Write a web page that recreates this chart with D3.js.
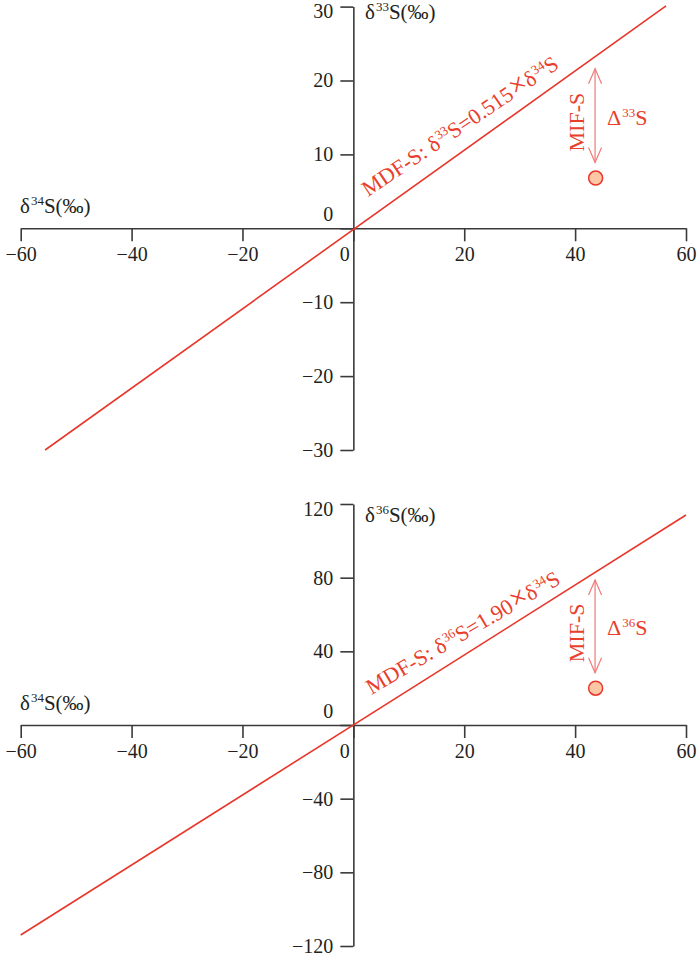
<!DOCTYPE html>
<html>
<head>
<meta charset="utf-8">
<script src="https://cdn.jsdelivr.net/npm/d3@7"></script>
<style>
  html, body { margin: 0; padding: 0; background: #fff; }
  svg { display: block; font-family: "Liberation Serif", "Times New Roman", serif; }
</style>
</head>
<body>
<svg id="chart" width="700" height="956"></svg>
<script>
// ---------- data ----------
const xTicks = [-60, -40, -20, 0, 20, 40, 60];
const yTicksTop = [-30, -20, -10, 0, 10, 20, 30];
const yTicksBottom = [-120, -80, -40, 0, 40, 80, 120];
const xDomain = [-60, 60];
const yDomainTop = [-30, 30];
const yDomainBottom = [-120, 120];

// MDF lines (endpoints)
const mdfTopX = [-55.6, 56.4];
const mdfTopY = [-30, 30.1];
const mdfBottomX = [-60, 60];
const mdfBottomY = [-114, 114];

// sample points
const pointTop = { x: 43.7, y: 6.8 };
const pointBottom = { x: 43.7, y: 20 };

// MIF arrows (x, y from, y to)
const arrowTop = { x: 43.6, y1: 21.6, y2: 8.9 };
const arrowBottom = { x: 43.6, y1: 78.7, y2: 28.4 };

// labels: [text, superscript?, enlarged?]
const mdfLabelTop = [["MDF-S: δ"], ["33", true], ["S=0.515"], ["×", false, true], ["δ"], ["34", true], ["S"]];
const mdfLabelBottom = [["MDF-S: δ"], ["36", true], ["S=1.90"], ["×", false, true], ["δ"], ["34", true], ["S"]];
const yLabelTop = [["δ"], ["33", true], ["S(‰)"]];
const yLabelBottom = [["δ"], ["36", true], ["S(‰)"]];
const xLabel = [["δ"], ["34", true], ["S(‰)"]];
const deltaTop = [["Δ"], ["33", true], ["S"]];
const deltaBottom = [["Δ"], ["36", true], ["S"]];

// ---------- style ----------
const RED = "#e8362a";
const RED_TXT = "#e8402c";
const ARROW = "#f07a78";
const INK = "#231f20";
const AXIS = "#3a3a3a";
const FS = 20;

const svg = d3.select("#chart");

function rich(sel, parts, fs) {
  const supFs = Math.round(fs * 0.6);
  const raise = fs * 0.36;
  let up = false;
  parts.forEach(([t, sup, big]) => {
    const ts = sel.append("tspan").text(t);
    if (sup) {
      ts.attr("font-size", supFs).attr("dy", -raise).attr("dx", 1);
      up = true;
    } else {
      ts.attr("font-size", big ? fs * 1.35 : fs);
      if (big) ts.attr("dx", 1);
      if (up) { ts.attr("dy", raise); up = false; }
    }
  });
  return sel;
}

const x = d3.scaleLinear().domain(xDomain).range([20.7, 686]);

function panel(cfg) {
  const y = d3.scaleLinear().domain(cfg.yDomain).range(cfg.yRange);
  const g = svg.append("g");

  // x axis
  const xa = g.append("g")
    .attr("transform", `translate(0,${y(0)})`)
    .call(d3.axisBottom(x).tickValues(xTicks).tickSize(13).tickSizeOuter(0).tickPadding(6)
      .tickFormat(d => d < 0 ? "\u2212" + Math.abs(d) : d));
  // y axis
  const ya = g.append("g")
    .attr("transform", `translate(${x(0)},0)`)
    .call(d3.axisLeft(y).tickValues(cfg.yTicks).tickSize(13).tickSizeOuter(0).tickPadding(7)
      .tickFormat(d => d < 0 ? "\u2212" + Math.abs(d) : d));
  [xa, ya].forEach(a => {
    a.select(".domain").attr("stroke", AXIS).attr("stroke-width", 1.6);
    a.selectAll(".tick line").attr("stroke", AXIS).attr("stroke-width", 1.6);
    a.selectAll(".tick text").attr("fill", INK).attr("font-size", FS)
      .attr("font-family", "Liberation Serif, serif");
  });
  xa.selectAll(".tick").filter(d => d === 0).select("text").attr("dx", -9);
  ya.selectAll(".tick").filter(d => d === 0).select("text").attr("y", -14);
  ya.selectAll(".tick").filter(d => d === cfg.yDomain[1]).select("text").attr("dy", "0.55em");

  // axis titles
  rich(g.append("text").attr("x", 365).attr("y", cfg.yLabelY).attr("fill", INK), cfg.yLabel, 21);
  rich(g.append("text").attr("x", 20).attr("y", y(0) - 15.5).attr("fill", INK), xLabel, 21);

  // MDF line
  g.append("line")
    .attr("x1", x(cfg.lineX[0])).attr("y1", y(cfg.lineY[0]))
    .attr("x2", x(cfg.lineX[1])).attr("y2", y(cfg.lineY[1]))
    .attr("stroke", RED).attr("stroke-width", 1.6);

  // MDF label
  rich(g.append("text")
    .attr("transform", `translate(${cfg.mdfPos[0]},${cfg.mdfPos[1]}) rotate(${cfg.mdfAngle})`)
    .attr("fill", RED_TXT), cfg.mdfLabel, 22);

  // arrow
  const ax = x(cfg.arrow.x), ay1 = y(cfg.arrow.y1), ay2 = y(cfg.arrow.y2);
  const ag = g.append("g").attr("stroke", ARROW).attr("stroke-width", 1.2).attr("fill", "none");
  ag.append("line").attr("x1", ax).attr("x2", ax).attr("y1", ay1).attr("y2", ay2);
  const hl = 15, hw = 6.5;
  ag.append("polyline").attr("points", `${ax - hw},${ay1 + hl} ${ax},${ay1} ${ax + hw},${ay1 + hl}`);
  ag.append("polyline").attr("points", `${ax - hw},${ay2 - hl} ${ax},${ay2} ${ax + hw},${ay2 - hl}`);

  // MIF-S label
  const mid = (ay1 + ay2) / 2;
  g.append("text")
    .attr("transform", `translate(${ax - 11},${mid + 6.5}) rotate(-90)`)
    .attr("text-anchor", "middle").attr("fill", RED_TXT).attr("font-size", 22)
    .text("MIF-S");
  rich(g.append("text").attr("x", ax + 12).attr("y", mid + 9).attr("fill", RED_TXT), cfg.delta, 22);

  // sample point
  g.append("circle")
    .attr("cx", x(cfg.point.x)).attr("cy", y(cfg.point.y)).attr("r", 7)
    .attr("fill", "#fdc7a6").attr("stroke", RED).attr("stroke-width", 1.5);
}

panel({
  yDomain: yDomainTop, yRange: [450, 6.6], yTicks: yTicksTop,
  yLabel: yLabelTop, yLabelY: 18.5,
  lineX: mdfTopX, lineY: mdfTopY,
  mdfLabel: mdfLabelTop, mdfPos: [368, 197], mdfAngle: -34,
  arrow: arrowTop, delta: deltaTop, point: pointTop
});

panel({
  yDomain: yDomainBottom, yRange: [946, 504], yTicks: yTicksBottom,
  yLabel: yLabelBottom, yLabelY: 521.5,
  lineX: mdfBottomX, lineY: mdfBottomY,
  mdfLabel: mdfLabelBottom, mdfPos: [371.5, 695], mdfAngle: -30.5,
  arrow: arrowBottom, delta: deltaBottom, point: pointBottom
});
</script>
</body>
</html>
